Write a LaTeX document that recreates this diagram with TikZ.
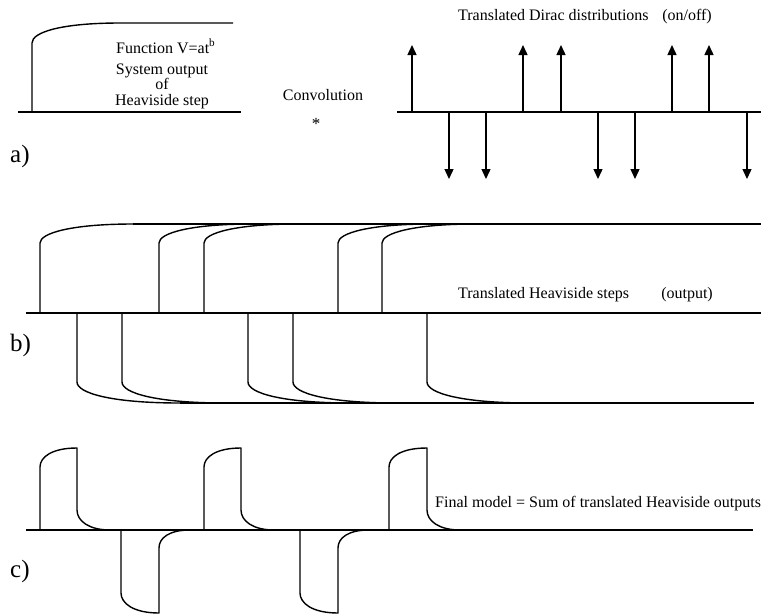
\documentclass[tikz,border=0pt]{standalone}
\usepackage{fontspec}
\setmainfont{Liberation Serif}
\usetikzlibrary{arrows.meta}
\tikzset{
  curve/.style={line width=1.4pt, line join=round},
  axisline/.style={line width=1.5pt},
  dirac/.style={line width=1.4pt, -{Triangle[length=10pt,width=9pt]}},
  lbl/.style={inner sep=0pt, font=\fontsize{16}{17}\selectfont},
  panel/.style={inner sep=0pt, anchor=base west, font=\fontsize{25}{26}\selectfont}
}
\begin{document}
\begin{tikzpicture}[x=1pt,y=-1pt]
\useasboundingbox (0,0) rectangle (761,614);

% ---------- panel a) : system output ----------
\draw[axisline] (18,112) -- (241,112);
\draw[curve] (32,112) -- (32,43) .. controls (32,32) and (62,23) .. (120,23) -- (233,23);
\node[lbl,anchor=base west] (fn) at (116,53) {Function V=at\textsuperscript{b}};
\node[lbl,anchor=base] (sys1) at (162,74) {System output};
\node[lbl,anchor=base] (sys2) at (162,89) {of};
\node[lbl,anchor=base] (sys3) at (162,105) {Heaviside step};
\node[panel] (pa) at (10,162) {a)};

\node[lbl,anchor=base] (conv) at (323,100) {Convolution};
\node[inner sep=0pt,font=\fontsize{17}{17}\selectfont] (star) at (316,124) {*};

% ---------- Dirac distributions ----------
\draw[axisline] (397,112) -- (761,112);
\foreach \x in {412,523,561,672,709} \draw[dirac] (\x,112) -- (\x,45);
\foreach \x in {449,486,598,635,747} \draw[dirac] (\x,112) -- (\x,179);
\node[lbl,anchor=base west] (dt) at (458,20) {Translated Dirac distributions};
\node[lbl,anchor=base east] (onoff) at (712,20) {(on/off)};

% ---------- panel b) ----------
\draw[axisline] (26,313) -- (761,313);
\draw[curve] (133,224) -- (761,224);
\draw[curve] (180,403) -- (754,403);
\foreach \x in {40,159,204,338,382}
  \draw[curve] (\x,313) -- (\x,243) .. controls (\x,233) and (\x+32,224) .. (\x+93,224);
\foreach \x in {77,122,248,293,427}
  \draw[curve] (\x,313) -- (\x,382) .. controls (\x,393) and (\x+34,403) .. (\x+103,403);
\node[lbl,anchor=base west] (ths) at (458,298) {Translated Heaviside steps};
\node[lbl,anchor=base east] (outp) at (713,298) {(output)};
\node[panel] (pb) at (10,351) {b)};

% ---------- panel c) ----------
\draw[axisline] (26,530) -- (753,530);
\foreach \a/\b in {40/77,204/241,389/427}
  \draw[curve] (\a,530) -- (\a,467) .. controls (\a,457) and (\a+12,448) .. (\b,448)
     -- (\b,510) .. controls (\b,521) and (\b+12,530) .. (\b+33,530);
\foreach \a/\b in {121/159,300/338}
  \draw[curve] (\a,530) -- (\a,593) .. controls (\a,603) and (\a+12,613) .. (\b,613)
     -- (\b,548) .. controls (\b,538) and (\b+10,530) .. (\b+31,530);
\node[lbl,anchor=base west] (fm) at (435,507) {Final model = Sum of translated Heaviside outputs};
\node[panel] (pc) at (10,577) {c)};
\end{tikzpicture}
\end{document}
